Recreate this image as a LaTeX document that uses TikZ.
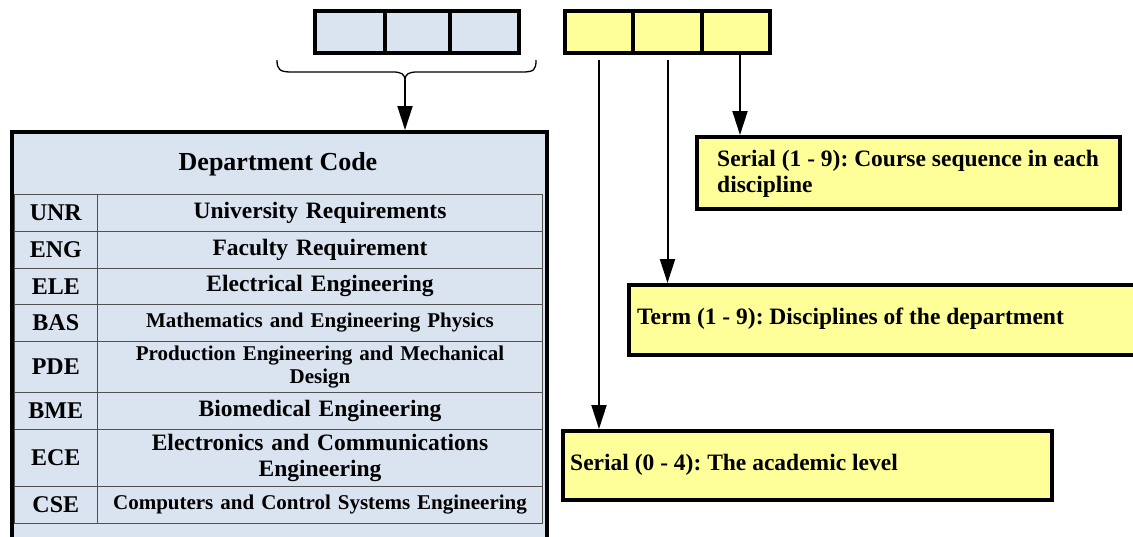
\documentclass[tikz,border=0pt]{standalone}
\usepackage{fontspec}
\setmainfont{Liberation Serif}
\usetikzlibrary{arrows.meta}
\frenchspacing

\definecolor{deptblue}{RGB}{218,227,240}
\definecolor{codeyellow}{RGB}{255,255,153}
\definecolor{gridgray}{RGB}{80,80,80}

\newcommand\fs[1]{\bfseries\fontsize{#1}{1.12\dimexpr #1pt\relax}\selectfont}

% one row of the department table: id, top, bottom, code, name, name font size
\newcommand\deptrow[6]{%
  \node[codecell, minimum height={#3-#2}, anchor=north west] (c#1) at (13.6,#2) {#4};
  \node[namecell, minimum height={#3-#2}, anchor=north west, font=\fs{#6}] (n#1) at (97,#2) {#5};
}

\begin{document}
\begin{tikzpicture}[x=1pt,y=-1pt,
  bcell/.style={draw=black, line width=3.5pt, fill=deptblue, minimum height=42pt, inner sep=0pt},
  ycell/.style={draw=black, line width=3.5pt, fill=codeyellow, minimum height=42pt, inner sep=0pt},
  bigbox/.style={draw=black, line width=3.5pt, fill=deptblue, inner sep=0pt},
  codecell/.style={draw=gridgray, line width=1pt, fill=deptblue, minimum width=83.4pt, inner sep=0pt, font=\fs{24}},
  namecell/.style={draw=gridgray, line width=1pt, fill=deptblue, minimum width=445pt, inner sep=0pt, align=center, text width=430pt},
  ybox/.style={draw=black, line width=3.5pt, fill=codeyellow, inner sep=0pt, anchor=north west},
  ytext/.style={font=\fs{23.5}, anchor=west, inner sep=0pt, align=left},
  arr/.style={line width=2pt, -{Triangle[length=24pt,width=15pt]}},
]
\useasboundingbox (0,0) rectangle (1133,536);

% three department letters
\node[bcell, minimum width=70pt] (b1) at (350,32) {};
\node[bcell, minimum width=65pt] (b2) at (417.5,32) {};
\node[bcell, minimum width=69pt] (b3) at (484.5,32) {};

% three digits
\node[ycell, minimum width=68pt] (y1) at (599,32) {};
\node[ycell, minimum width=69pt] (y2) at (667.5,32) {};
\node[ycell, minimum width=68pt] (y3) at (736,32) {};

% brace gathering the letters
\draw[line width=1.3pt] (277,60) .. controls (277,70) and (280,72) .. (292,72) -- (393,72)
  .. controls (401,72) and (405,74) .. (405,80)
  .. controls (405,74) and (409,72) .. (417,72) -- (522,72)
  .. controls (534,72) and (536,70) .. (536,60);
\coordinate (brace) at (405,80);

% department table
\node[bigbox, minimum width=535pt, minimum height=430pt, anchor=north west] (dept) at (10,130) {};
\node[font=\fs{26}] (title) at (278,164) {Department Code};
\deptrow{1}{194}{231}{UNR}{University Requirements}{23.5}
\deptrow{2}{231}{267.5}{ENG}{Faculty Requirement}{23.5}
\deptrow{3}{267.5}{304}{ELE}{Electrical Engineering}{23.5}
\deptrow{4}{304}{341}{BAS}{Mathematics and Engineering Physics}{21}
\deptrow{5}{341}{392}{PDE}{Production Engineering and Mechanical\\Design}{21}
\deptrow{6}{392}{429}{BME}{Biomedical Engineering}{23.5}
\deptrow{7}{429}{486}{ECE}{Electronics and Communications\\Engineering}{23.5}
\deptrow{8}{486}{523}{CSE}{Computers and Control Systems Engineering}{21}

\draw[arr] (brace) -- (brace |- dept.north);

% digit descriptions
\node[ybox, minimum width=423pt, minimum height=72pt] (serial) at (695,135) {};
\node[ytext] (serialtext) at ([xshift=22pt,yshift=-1pt]serial.west) {Serial (1 - 9): Course sequence in each\\discipline};

\node[ybox, minimum width=520pt, minimum height=70pt] (term) at (627,283) {};
\node[ytext] (termtext) at ([xshift=10pt,yshift=1pt]term.west) {Term (1 - 9): Disciplines of the department};

\node[ybox, minimum width=489pt, minimum height=69pt] (level) at (561,429) {};
\node[ytext] (leveltext) at ([xshift=9pt]level.west) {Serial (0 - 4): The academic level};

\draw[arr] ([yshift=-5pt]y1.south) -- (y1.south |- level.north);
\draw[arr] ([yshift=-5pt]y2.south) -- (y2.south |- term.north);
\draw[arr] ([xshift=4pt]y3.south) -- ([xshift=4pt]y3.south |- serial.north);
\end{tikzpicture}
\end{document}
